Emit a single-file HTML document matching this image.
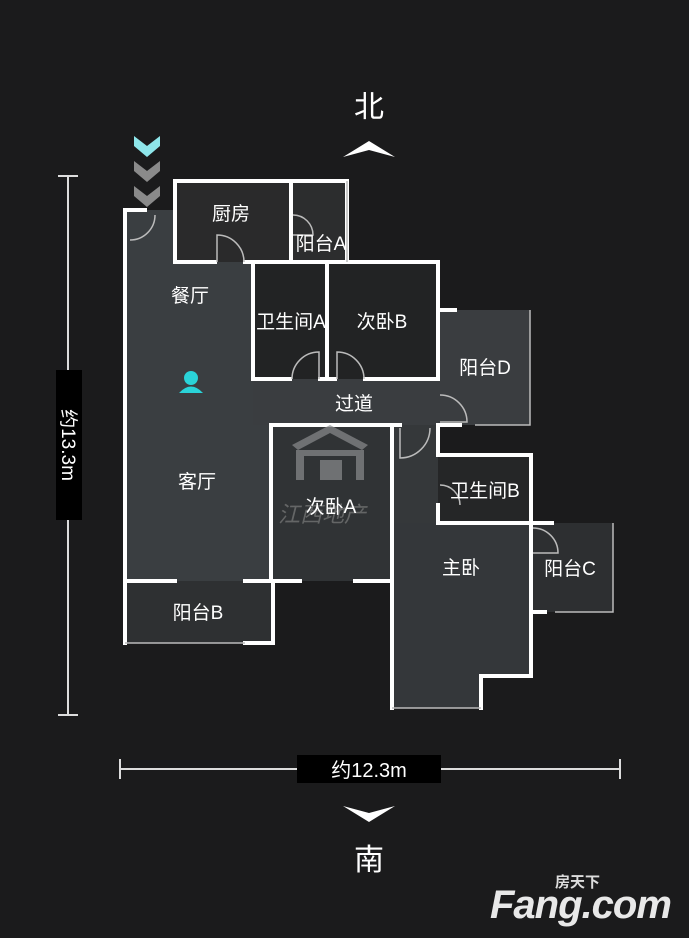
<!DOCTYPE html>
<html><head><meta charset="utf-8"><style>
body{margin:0;background:#1b1b1c;}
svg{display:block}
text{font-family:"Liberation Sans","Noto Sans CJK SC",sans-serif;fill:#fff}
</style></head><body>
<svg width="689" height="938" viewBox="0 0 689 938" xmlns="http://www.w3.org/2000/svg">
<rect width="689" height="938" fill="#1b1b1c"/>
<g fill="#34383b">
<rect x="125" y="210" width="146" height="371" fill="#3a3e41"/>
<rect x="175" y="181" width="116" height="81" fill="#2a2a2b"/>
<rect x="291" y="181" width="56" height="81" fill="#2c2d2e"/>
<rect x="253" y="262" width="74" height="117" fill="#222324"/>
<rect x="327" y="262" width="111" height="117" fill="#222324"/>
<rect x="253" y="379" width="185" height="46" fill="#3a3d40"/>
<rect x="438" y="310" width="92" height="115" fill="#3a3d40"/>
<rect x="271" y="425" width="121" height="156" fill="#303335"/>
<rect x="392" y="425" width="46" height="98" fill="#35383a"/>
<rect x="438" y="455" width="93" height="68" fill="#252627"/>
<polygon points="392,523 531,523 531,676 481,676 481,708 392,708" fill="#34373a"/>
<rect x="531" y="523" width="82" height="89" fill="#2d2f31"/>
<rect x="125" y="581" width="148" height="62" fill="#2e3032"/>
</g>
<g stroke="#fff" stroke-width="4" fill="none" stroke-linecap="square">
<path d="M125,643 V210 H145"/>
<path d="M175,262 V181 H347 V262"/>
<path d="M175,262 H215 M245,262 H291 V181"/>
<path d="M253,262 V379 H290 M320,379 H335 M365,379 H438 V262 H327 V379"/>
<path d="M253,262 H327"/>
<path d="M438,310 H455"/>
<path d="M438,425 V455 H531 V523 H438 V505"/>
<path d="M438,425 H460"/>
<path d="M271,581 V425 H392 V708"/>
<path d="M392,425 H400"/>
<path d="M125,581 H175 M245,581 H300 M355,581 H392"/>
<path d="M273,581 V643 H245"/>
<path d="M531,523 V676 H481 V708"/>
<path d="M531,612 H545 M531,523 H552"/>
</g>
<g stroke="#bbb" stroke-width="1.5" fill="none">
<path d="M347,181 V262 M530,310 V425 H475 M613,523 V612 H555 M392,708 H481 M125,643 H245"/>
<path d="M130,240 A25,25 0 0 0 155,215 M217,262 V235 A27,27 0 0 1 244,262 M293,215 A20,20 0 0 1 313,235 H293 M292,379 A27,27 0 0 1 319,352 V379 M337,379 V352 A27,27 0 0 1 364,379 M440,395 A27,27 0 0 1 467,422 H440 M400,428 V458 A30,30 0 0 0 430,428 M440,485 A20,20 0 0 1 460,505 M533,528 A25,25 0 0 1 558,553 H533"/>
</g>
<g fill="#8a8c8e" opacity="0.7">
<polygon points="292,445 330,425 368,445 362,450 330,433 298,450"/>
<rect x="296" y="450" width="68" height="6"/><rect x="296" y="450" width="8" height="30"/><rect x="356" y="450" width="8" height="30"/>
<rect x="320" y="460" width="22" height="20"/>
</g>
<text x="278" y="522" font-size="22" style="fill:#888" opacity="0.6" font-style="italic">江西地产</text>
<g font-size="19">
<text x="231" y="220" text-anchor="middle">厨房</text>
<text x="321" y="250" text-anchor="middle">阳台A</text>
<text x="190" y="302" text-anchor="middle">餐厅</text>
<text x="291" y="328" text-anchor="middle">卫生间A</text>
<text x="382" y="328" text-anchor="middle">次卧B</text>
<text x="485" y="374" text-anchor="middle">阳台D</text>
<text x="354" y="410" text-anchor="middle">过道</text>
<text x="197" y="488" text-anchor="middle">客厅</text>
<text x="331" y="513" text-anchor="middle">次卧A</text>
<text x="485" y="497" text-anchor="middle">卫生间B</text>
<text x="461" y="574" text-anchor="middle">主卧</text>
<text x="570" y="575" text-anchor="middle">阳台C</text>
<text x="198" y="619" text-anchor="middle">阳台B</text>
</g>
<circle cx="191" cy="378" r="7" fill="#2ad3d8"/>
<path d="M179,393 Q191,380 203,393 Z" fill="#2ad3d8"/>
<g>
<polygon points="134,136 147,146 160,136 160,146 147,157 134,146" fill="#8ee6ea"/>
<polygon points="134,161 147,171 160,161 160,171 147,182 134,171" fill="#8a8a8a"/>
<polygon points="134,186 147,196 160,186 160,196 147,207 134,196" fill="#8a8a8a"/>
</g>
<text x="369" y="117" font-size="30" text-anchor="middle">北</text>
<path d="M343,157 L369,141 L395,157 L369,150 Z" fill="#fff"/>
<path d="M343,806 L369,822 L395,806 L369,813 Z" fill="#fff"/>
<text x="369" y="870" font-size="30" text-anchor="middle">南</text>
<g stroke="#ddd" stroke-width="2">
<path d="M68,176 V715 M58,176 H78 M58,715 H78"/>
<path d="M120,769 H620 M120,759 V779 M620,759 V779"/>
</g>
<rect x="56" y="370" width="26" height="150" fill="#000"/>
<text transform="translate(62,445) rotate(90)" font-size="19" text-anchor="middle">约13.3m</text>
<rect x="297" y="755" width="144" height="28" fill="#000"/>
<text x="369" y="777" font-size="20" text-anchor="middle">约12.3m</text>
<text x="555" y="887" font-size="15" style="fill:#ddd" font-weight="bold">房天下</text>
<text x="490" y="918" font-size="40" font-weight="bold" font-style="italic" style="fill:#e8e8e8" letter-spacing="-1">Fang.com</text>
</svg>
</body></html>
